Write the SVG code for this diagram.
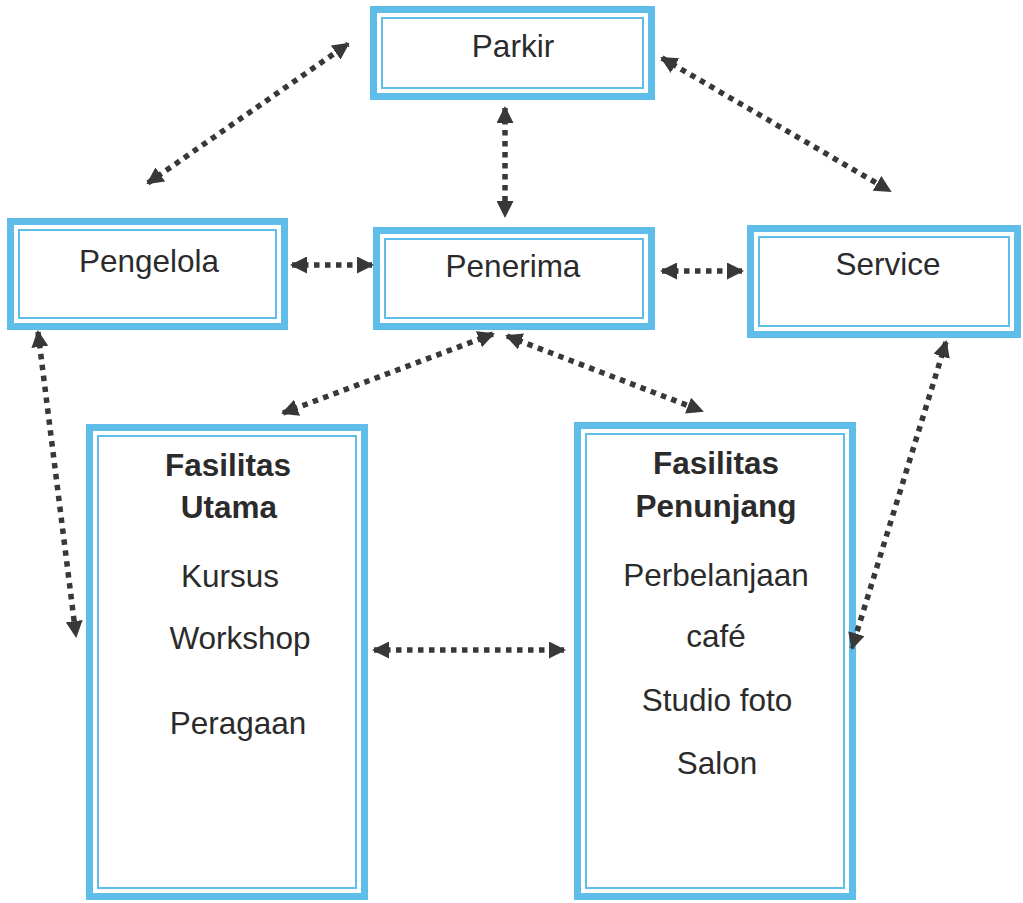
<svg xmlns="http://www.w3.org/2000/svg" width="1023" height="903" viewBox="0 0 1023 903">
  <style>
    .band { fill: #ffffff; stroke: #5ebde9; stroke-width: 7; }
    .inner { fill: none; stroke: #5ebde9; stroke-width: 2; }
    .lbl { font-family: "Liberation Sans", Arial, sans-serif; font-size: 31.5px; fill: #2b2b2b; text-anchor: middle; }
    .head { font-weight: bold; }
    .link { fill: none; stroke: #383838; stroke-width: 5.5; stroke-dasharray: 5.5 5.5; }
  </style>
  <defs>
    <marker id="tip" viewBox="0 0 17 17" refX="15" refY="8.5" markerWidth="17" markerHeight="17" markerUnits="userSpaceOnUse" orient="auto-start-reverse">
      <path d="M0,0 L17,8.5 L0,17 Z" fill="#383838"/>
    </marker>
  </defs>

  <rect width="1023" height="903" fill="#ffffff"/>

  <!-- nodes -->
  <g id="parkir">
    <rect class="band" x="373.5" y="9.5" width="278" height="87"/>
    <rect class="inner" x="382" y="18" width="261" height="70"/>
    <text class="lbl" x="513" y="57">Parkir</text>
  </g>

  <g id="pengelola">
    <rect class="band" x="10.5" y="221.5" width="274" height="105"/>
    <rect class="inner" x="19" y="230" width="257" height="88"/>
    <text class="lbl" x="149" y="272">Pengelola</text>
  </g>

  <g id="penerima">
    <rect class="band" x="376.5" y="230.5" width="275" height="96"/>
    <rect class="inner" x="385" y="239" width="258" height="79"/>
    <text class="lbl" x="513" y="277">Penerima</text>
  </g>

  <g id="service">
    <rect class="band" x="750.5" y="228.5" width="267" height="106"/>
    <rect class="inner" x="759" y="237" width="250" height="89"/>
    <text class="lbl" x="888" y="275">Service</text>
  </g>

  <g id="fasilitas-utama">
    <rect class="band" x="89.5" y="427.5" width="275" height="469"/>
    <rect class="inner" x="98" y="436" width="258" height="452"/>
    <text class="lbl head" x="228" y="476">Fasilitas</text>
    <text class="lbl head" x="229" y="518">Utama</text>
    <text class="lbl" x="230" y="587">Kursus</text>
    <text class="lbl" x="240" y="649">Workshop</text>
    <text class="lbl" x="238" y="734">Peragaan</text>
  </g>

  <g id="fasilitas-penunjang">
    <rect class="band" x="577.5" y="425.5" width="275" height="471"/>
    <rect class="inner" x="586" y="434" width="258" height="454"/>
    <text class="lbl head" x="716" y="474">Fasilitas</text>
    <text class="lbl head" x="716" y="517">Penunjang</text>
    <text class="lbl" x="716" y="586">Perbelanjaan</text>
    <text class="lbl" x="716" y="647">café</text>
    <text class="lbl" x="717" y="711">Studio foto</text>
    <text class="lbl" x="717" y="774">Salon</text>
  </g>

  <!-- two-way connectors -->
  <g id="connectors">
    <line class="link" x1="148" y1="183" x2="348" y2="44" marker-start="url(#tip)" marker-end="url(#tip)"/>
    <line class="link" x1="505" y1="108" x2="505" y2="216" marker-start="url(#tip)" marker-end="url(#tip)"/>
    <line class="link" x1="662" y1="58" x2="890" y2="191" marker-start="url(#tip)" marker-end="url(#tip)"/>
    <line class="link" x1="292" y1="265" x2="372" y2="265" marker-start="url(#tip)" marker-end="url(#tip)"/>
    <line class="link" x1="662" y1="271" x2="742" y2="271" marker-start="url(#tip)" marker-end="url(#tip)"/>
    <line class="link" x1="38" y1="332" x2="76" y2="636" marker-start="url(#tip)" marker-end="url(#tip)"/>
    <line class="link" x1="493" y1="334" x2="283" y2="413" marker-start="url(#tip)" marker-end="url(#tip)"/>
    <line class="link" x1="507" y1="336" x2="702" y2="411" marker-start="url(#tip)" marker-end="url(#tip)"/>
    <line class="link" x1="946" y1="342" x2="852" y2="648" marker-start="url(#tip)" marker-end="url(#tip)"/>
    <line class="link" x1="374" y1="650" x2="564" y2="650" marker-start="url(#tip)" marker-end="url(#tip)"/>
  </g>
</svg>
